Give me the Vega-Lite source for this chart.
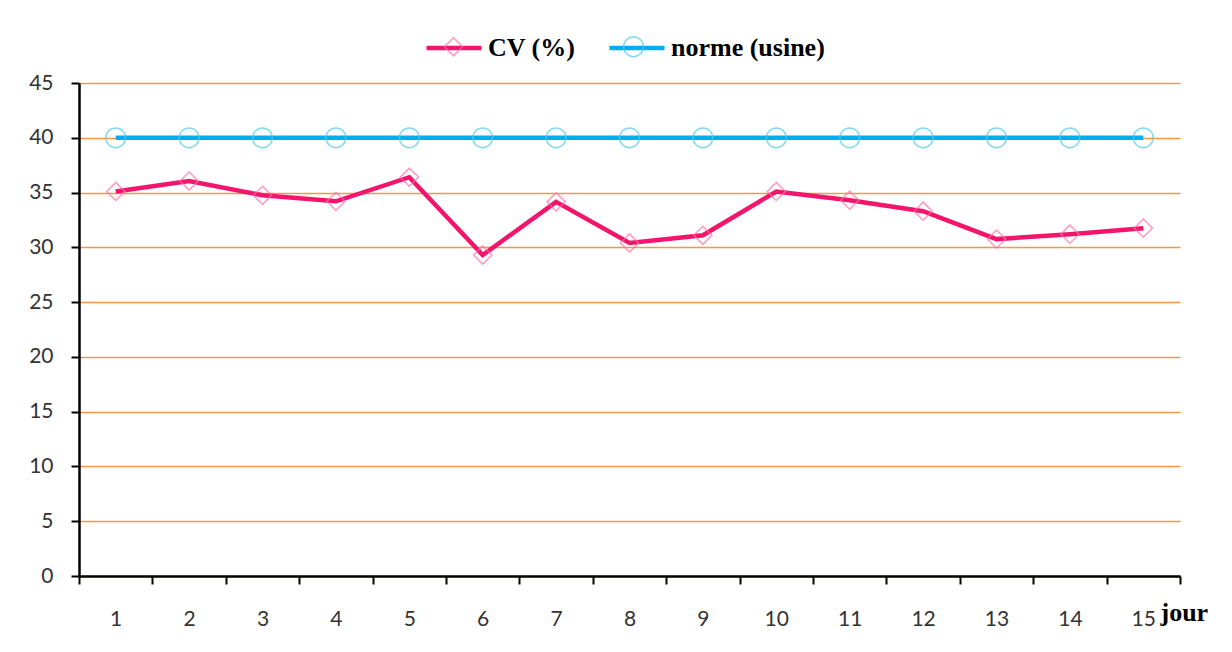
{
  "$schema": "https://vega.github.io/schema/vega-lite/v6.json",
  "width": 1101,
  "height": 493,
  "autosize": {"type": "none"},
  "padding": {"left": 79, "top": 83, "right": 52, "bottom": 76},
  "background": "white",
  "data": {
    "values": [
      {"jour": 1, "serie": "CV (%)", "marqueur": "CV (%)", "valeur": 35.1},
      {"jour": 2, "serie": "CV (%)", "marqueur": "CV (%)", "valeur": 36.05},
      {"jour": 3, "serie": "CV (%)", "marqueur": "CV (%)", "valeur": 34.75},
      {"jour": 4, "serie": "CV (%)", "marqueur": "CV (%)", "valeur": 34.2},
      {"jour": 5, "serie": "CV (%)", "marqueur": "CV (%)", "valeur": 36.4},
      {"jour": 6, "serie": "CV (%)", "marqueur": "CV (%)", "valeur": 29.3},
      {"jour": 7, "serie": "CV (%)", "marqueur": "CV (%)", "valeur": 34.15},
      {"jour": 8, "serie": "CV (%)", "marqueur": "CV (%)", "valeur": 30.4},
      {"jour": 9, "serie": "CV (%)", "marqueur": "CV (%)", "valeur": 31.1},
      {"jour": 10, "serie": "CV (%)", "marqueur": "CV (%)", "valeur": 35.1},
      {"jour": 11, "serie": "CV (%)", "marqueur": "CV (%)", "valeur": 34.3},
      {"jour": 12, "serie": "CV (%)", "marqueur": "CV (%)", "valeur": 33.3},
      {"jour": 13, "serie": "CV (%)", "marqueur": "CV (%)", "valeur": 30.75},
      {"jour": 14, "serie": "CV (%)", "marqueur": "CV (%)", "valeur": 31.2},
      {"jour": 15, "serie": "CV (%)", "marqueur": "CV (%)", "valeur": 31.75},
      {"jour": 1, "serie": "norme (usine)", "marqueur": "norme (usine)", "valeur": 40},
      {"jour": 2, "serie": "norme (usine)", "marqueur": "norme (usine)", "valeur": 40},
      {"jour": 3, "serie": "norme (usine)", "marqueur": "norme (usine)", "valeur": 40},
      {"jour": 4, "serie": "norme (usine)", "marqueur": "norme (usine)", "valeur": 40},
      {"jour": 5, "serie": "norme (usine)", "marqueur": "norme (usine)", "valeur": 40},
      {"jour": 6, "serie": "norme (usine)", "marqueur": "norme (usine)", "valeur": 40},
      {"jour": 7, "serie": "norme (usine)", "marqueur": "norme (usine)", "valeur": 40},
      {"jour": 8, "serie": "norme (usine)", "marqueur": "norme (usine)", "valeur": 40},
      {"jour": 9, "serie": "norme (usine)", "marqueur": "norme (usine)", "valeur": 40},
      {"jour": 10, "serie": "norme (usine)", "marqueur": "norme (usine)", "valeur": 40},
      {"jour": 11, "serie": "norme (usine)", "marqueur": "norme (usine)", "valeur": 40},
      {"jour": 12, "serie": "norme (usine)", "marqueur": "norme (usine)", "valeur": 40},
      {"jour": 13, "serie": "norme (usine)", "marqueur": "norme (usine)", "valeur": 40},
      {"jour": 14, "serie": "norme (usine)", "marqueur": "norme (usine)", "valeur": 40},
      {"jour": 15, "serie": "norme (usine)", "marqueur": "norme (usine)", "valeur": 40}
    ]
  },
  "encoding": {
    "x": {
      "field": "jour",
      "type": "ordinal",
      "scale": {"type": "band", "paddingInner": 0, "paddingOuter": 0},
      "axis": {
        "title": "jour",
        "titleFont": "Liberation Serif",
        "titleFontWeight": "bold",
        "titleFontSize": 26,
        "titleColor": "black",
        "titleX": 1081,
        "titleY": 44,
        "titleAlign": "left",
        "titleBaseline": "alphabetic",
        "labelAngle": 0,
        "tickBand": "extent",
        "ticks": true,
        "tickSize": 8,
        "tickWidth": 2,
        "tickColor": "black",
        "domainColor": "black",
        "domainWidth": 2.5,
        "labelFont": "Lato",
        "labelFontSize": 21,
        "labelColor": "#333333",
        "labelPadding": 35,
        "labelBaseline": "middle",
        "grid": false
      }
    },
    "y": {
      "field": "valeur",
      "type": "quantitative",
      "scale": {"domain": [0, 45], "nice": false},
      "axis": {
        "title": null,
        "values": [0, 5, 10, 15, 20, 25, 30, 35, 40, 45],
        "grid": true,
        "gridColor": "#F79646",
        "gridWidth": 1.5,
        "domainColor": "black",
        "domainWidth": 2.5,
        "tickColor": "black",
        "tickWidth": 2,
        "tickSize": 8,
        "labelPadding": 18,
        "labelFont": "Lato",
        "labelFontSize": 21,
        "labelColor": "#333333"
      }
    }
  },
  "layer": [
    {
      "mark": {"type": "line", "strokeWidth": 4.5},
      "encoding": {
        "color": {
          "field": "serie",
          "type": "nominal",
          "scale": {"range": ["#F2156B", "#00AEEF"]},
          "legend": {
            "orient": "none",
            "legendX": 345,
            "legendY": -65,
            "direction": "horizontal",
            "title": null,
            "padding": 0,
            "symbolType": "M-1,0H1",
            "symbolSize": 3025,
            "symbolStrokeWidth": 4.5,
            "symbolFillColor": "transparent",
            "labelFont": "Liberation Serif",
            "labelFontWeight": "bold",
            "labelFontSize": 26,
            "labelColor": "black",
            "labelOffset": 4,
            "columnPadding": 24
          }
        }
      }
    },
    {
      "mark": {"type": "point", "filled": false, "size": 3025, "strokeWidth": 1.5},
      "encoding": {
        "stroke": {
          "field": "marqueur",
          "type": "nominal",
          "scale": {"range": ["#FF6FA8", "#55C8F0"]},
          "legend": {
            "orient": "none",
            "legendX": 346,
            "legendY": -65,
            "direction": "horizontal",
            "title": null,
            "padding": 0,
            "symbolSize": 3025,
            "symbolStrokeWidth": 1.5,
            "symbolFillColor": "transparent",
            "labelExpr": "''",
            "labelFontSize": 26,
            "labelOffset": 4,
            "columnPadding": 119
          }
        },
        "shape": {
          "field": "marqueur",
          "type": "nominal",
          "scale": {"range": ["M0,-0.33L0.33,0L0,0.33L-0.33,0Z", "M0.36,0A0.36,0.36 0 1,1 -0.36,0A0.36,0.36 0 1,1 0.36,0Z"]},
          "legend": {
            "orient": "none",
            "legendX": 346,
            "legendY": -65,
            "direction": "horizontal",
            "title": null,
            "padding": 0,
            "symbolSize": 3025,
            "symbolStrokeWidth": 1.5,
            "symbolFillColor": "transparent",
            "labelExpr": "''",
            "labelFontSize": 26,
            "labelOffset": 4,
            "columnPadding": 119
          }
        }
      }
    }
  ],
  "config": {
    "view": {"stroke": null},
    "legend": {"padding": 0}
  }
}
